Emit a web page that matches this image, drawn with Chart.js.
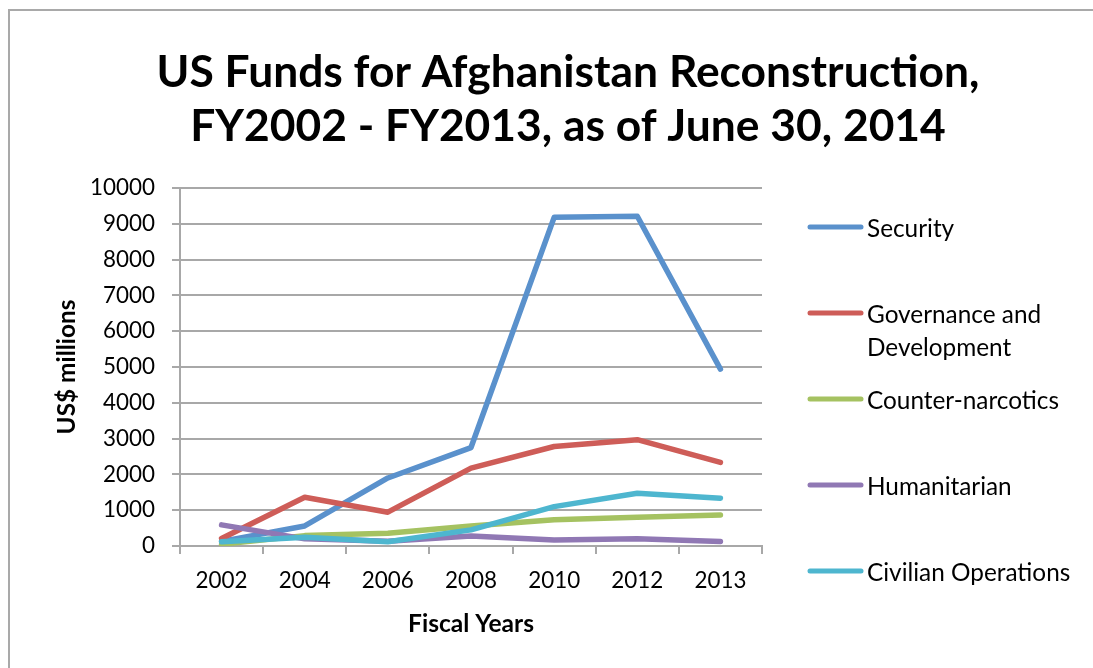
<!DOCTYPE html>
<html><head><meta charset="utf-8">
<script src="https://cdn.jsdelivr.net/npm/chart.js@4.4.1/dist/chart.umd.min.js"></script>
<style>
html,body{margin:0;padding:0;background:#fff;overflow:hidden;width:1093px;height:668px}
#frame{position:absolute;left:8px;top:9px;width:1200px;height:800px;border:2px solid #a9a9a9;box-sizing:border-box}
#wrap{position:absolute;left:0;top:0;width:1093px;height:668px}
</style></head><body>
<div id="frame"></div>
<div id="wrap"><canvas id="c" width="1093" height="668"></canvas></div>
<script>
// ---- data ----
const categories = ['2002', '2004', '2006', '2008', '2010', '2012', '2013'];
const seriesNames = ['Security', ['Governance and', 'Development'], 'Counter-narcotics', 'Humanitarian', 'Civilian Operations'];
const security      = [130, 560, 1900, 2750, 9180, 9210, 4940];
const governance    = [210, 1360, 945, 2175, 2780, 2970, 2335];
const counterNarc   = [50, 290, 355, 560, 730, 805, 865];
const humanitarian  = [590, 200, 130, 280, 170, 205, 125];
const civilian      = [120, 245, 120, 450, 1100, 1475, 1335];
const yTicks = [0, 1000, 2000, 3000, 4000, 5000, 6000, 7000, 8000, 9000, 10000];
const titleLines = ['US Funds for Afghanistan Reconstruction,', 'FY2002 - FY2013, as of June 30, 2014'];
const xTitle = 'Fiscal Years';
const yTitle = 'US$ millions';

const colors = ['#5A91CC', '#CE5D58', '#A5C261', '#9078B4', '#4EB6CF'];
const seriesValues = [security, governance, counterNarc, humanitarian, civilian];

const FAMILY = 'Lato, "Open Sans", sans-serif';
const mctx = document.createElement('canvas').getContext('2d');
function fit(text, weight, target) {
  mctx.font = weight + ' 100px ' + FAMILY;
  return 100 * target / mctx.measureText(text).width;
}
const titleSize = fit(titleLines[0], 'bold', 823);
const tickSize = fit('2002', 'normal', 52);
const legendSize = fit('Counter-narcotics', 'normal', 192);
const xTitleSize = fit(xTitle, 'bold', 126);
const yTitleSize = fit(yTitle, 'bold', 135);

const GRID = '#a8a8a8';

const titlePlugin = {
  id: 'pageTitle',
  afterDraw(chart) {
    const ctx = chart.ctx;
    ctx.save();
    ctx.font = 'bold ' + titleSize + 'px ' + FAMILY;
    ctx.textAlign = 'center';
    ctx.textBaseline = 'alphabetic';
    ctx.fillStyle = '#000';
    titleLines.forEach((t, k) => ctx.fillText(t, 568, 87 + k * 54));
    ctx.restore();
  }
};

const legendPlugin = {
  id: 'sideLegend',
  afterDraw(chart) {
    const ctx = chart.ctx;
    ctx.save();
    ctx.font = legendSize + 'px ' + FAMILY;
    ctx.textBaseline = 'middle';
    ctx.textAlign = 'left';
    ctx.fillStyle = '#000';
    chart.data.datasets.forEach((ds, i) => {
      const y = 227 + i * 86;
      ctx.strokeStyle = ds.borderColor;
      ctx.lineWidth = 5;
      ctx.lineCap = 'round';
      ctx.beginPath();
      ctx.moveTo(810, y);
      ctx.lineTo(861, y);
      ctx.stroke();
      const lines = Array.isArray(seriesNames[i]) ? seriesNames[i] : [seriesNames[i]];
      lines.forEach((t, k) => ctx.fillText(t, 867, y + 2 + k * 33));
    });
    ctx.restore();
  }
};

new Chart(document.getElementById('c'), {
  type: 'line',
  data: {
    labels: categories,
    datasets: seriesValues.map((vals, i) => ({
      label: Array.isArray(seriesNames[i]) ? seriesNames[i].join(' ') : seriesNames[i],
      data: vals,
      borderColor: colors[i],
      backgroundColor: colors[i],
      borderWidth: 5.5,
      pointRadius: 0,
      pointHoverRadius: 0,
      tension: 0,
      borderCapStyle: 'round',
      borderJoinStyle: 'round',
      order: seriesValues.length - i
    }))
  },
  options: {
    responsive: false,
    animation: false,
    devicePixelRatio: 1,
    layout: { padding: { left: 0, right: 331, top: 188, bottom: 0 } },
    plugins: {
      legend: { display: false },
      tooltip: { enabled: false },
      title: { display: false }
    },
    scales: {
      x: {
        type: 'category',
        offset: true,
        grid: { display: true, drawOnChartArea: false, drawTicks: true, tickLength: 8, color: GRID, lineWidth: 2, offset: true },
        border: { display: true, color: GRID, width: 2 },
        ticks: { color: '#000', font: { family: FAMILY, size: tickSize }, padding: 27 - 0.6 * tickSize, maxRotation: 0, autoSkip: false },
        title: { display: true, text: xTitle, color: '#000', font: { family: FAMILY, size: xTitleSize, weight: 'bold' }, padding: { top: 0, bottom: 44 - 0.6 * xTitleSize } },
        afterFit(scale) { scale.height = 122; }
      },
      y: {
        min: 0, max: 10000,
        afterBuildTicks(scale) { scale.ticks = yTicks.map(v => ({ value: v })); },
        grid: { color: GRID, lineWidth: 2, tickLength: 8, drawTicks: true },
        border: { display: true, color: GRID, width: 2 },
        ticks: { color: '#000', font: { family: FAMILY, size: tickSize }, padding: 17, callback: v => String(v) },
        title: { display: true, text: yTitle, color: '#000', font: { family: FAMILY, size: yTitleSize, weight: 'bold' }, padding: { top: 67 - 0.6 * yTitleSize, bottom: 0 } },
        afterFit(scale) { scale.width = 180; }
      }
    }
  },
  plugins: [titlePlugin, legendPlugin]
});
</script>
</body></html>
